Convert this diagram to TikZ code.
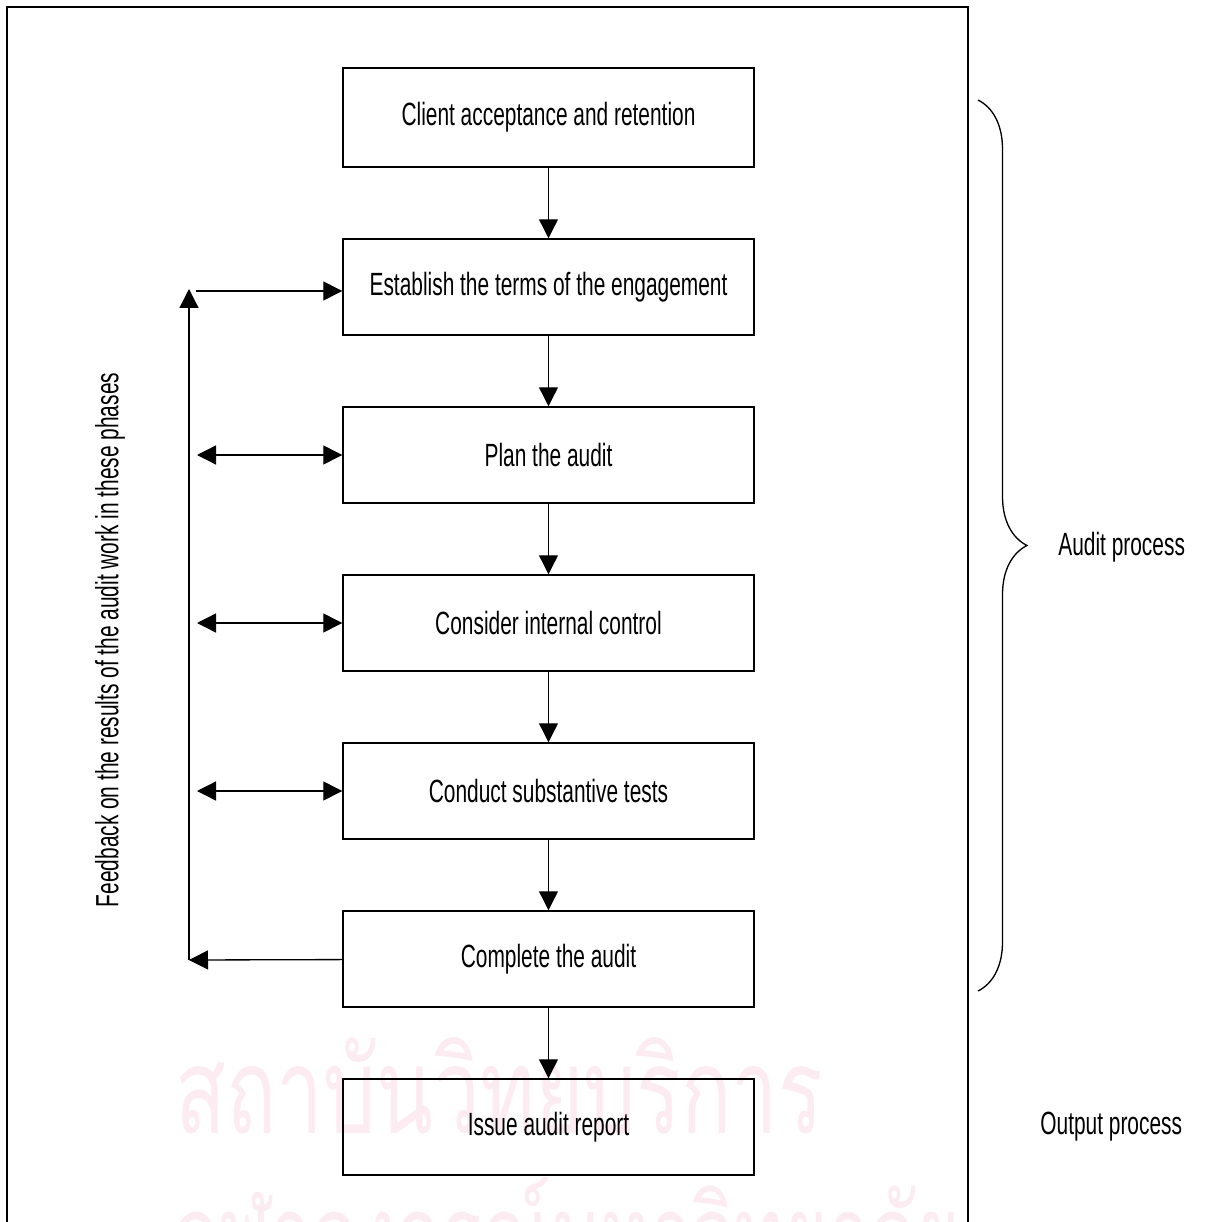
\documentclass[tikz,border=0pt]{standalone}
\usepackage{graphicx}
\usepackage{fontspec}
\setmainfont[FakeStretch=0.65]{Liberation Sans}
\newfontfamily\thaifont[Script=Thai]{Loma}
\usetikzlibrary{arrows.meta,decorations.pathreplacing}
\definecolor{wmark}{RGB}{252,236,241}
\begin{document}
\begin{tikzpicture}[x=0.02cm, y=-0.02cm, >={Triangle[length=0.38cm,width=0.38cm]}, font=\fontsize{18.3}{22}\selectfont]
	\tikzstyle{phase}=[draw, line width=0.85pt, minimum width=8.22cm, minimum height=1.92cm, inner sep=0pt]
	\tikzstyle{flow}=[line width=0.75pt]
	\useasboundingbox (0,0) rectangle (1205,1222);
	% watermark
	\begin{scope}
		\clip (0,0) rectangle (1205,1222);
		\node[text=wmark, anchor=base west, inner sep=0pt](W1) at (175,1133) {\resizebox{12.96cm}{1.92cm}{\thaifont สถาบันวิทยบริการ}};
		\node[text=wmark, anchor=base west, inner sep=0pt](W2) at (175,1273) {\resizebox{15.7cm}{1.92cm}{\thaifont จุฬาลงกรณ์มหาวิทยาลัย}};
	\end{scope}
	\draw[line width=1.1pt] (7,1222) -- (7,7) -- (968,7) -- (968,1222);
	\draw 
	node[phase, minimum height=1.98cm](A) at (548.5,117.5){Client acceptance and retention}
	node[phase](B) at (548.5,287){Establish the terms of the engagement}
	node[phase](C) at (548.5,455){Plan the audit}
	node[phase](D) at (548.5,623){Consider internal control}
	node[phase](E) at (548.5,791){Conduct substantive tests}
	node[phase](F) at (548.5,959){Complete the audit}
	node[phase](G) at (548.5,1127){Issue audit report};
	
	\coordinate (T) at (189,289);
	\coordinate (U) at (189,960);
	\coordinate (S) at (196,291);
	\coordinate (P) at (197,455);
	\coordinate (Q) at (197,623);
	\coordinate (R) at (197,791);
	
	\draw[->,flow](A)--(B);
	\draw[->,flow](B)--(C);
	\draw[->,flow](C)--(D);
	\draw[->,flow](D)--(E);
	\draw[->,flow](E)--(F);
	\draw[->,flow](F)--(G);
	\draw[->,flow](F)--(U);
	\draw[->,flow](U)--(T);
	\draw[->,flow](S)--(S -| B.west);
	\draw[<->,flow](P)--(C);
	\draw[<->,flow](Q)--(D);
	\draw[<->,flow](R)--(E);
	
	\node[rotate=90](L) at (110,640){Feedback on the results of the audit work in these phases};
	
	\coordinate (BT) at (978,100);
	\coordinate (BB) at (978,991);
	\draw[flow, decorate, decoration={brace, amplitude=0.98cm}](BT)--(BB);
	\node[anchor=west, inner sep=0pt](AP) at (1058,547){Audit process};
	\node[anchor=west, inner sep=0pt](OP) at (1040,1127){Output process};
\end{tikzpicture}
\end{document}
